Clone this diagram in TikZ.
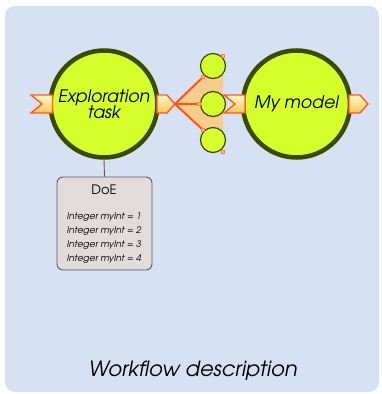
\documentclass[tikz,border=0pt]{standalone}
\usepackage{fontspec}
\setmainfont{TeX Gyre Adventor}
\definecolor{bg}{HTML}{D6E1F3}
\definecolor{lime}{HTML}{D4FF2A}
\definecolor{olive}{HTML}{3B4A00}
\definecolor{slotline}{HTML}{FF5A1A}
\definecolor{slottop}{HTML}{FFF7CC}
\definecolor{slotbot}{HTML}{FFC655}
\definecolor{fanfill}{HTML}{F8CC8C}
\definecolor{fanred}{HTML}{FF5414}
\definecolor{porty}{HTML}{FFC078}
\definecolor{boxfill}{HTML}{E2DBDB}
\definecolor{boxline}{HTML}{5A5A5A}
\begin{document}
\begin{tikzpicture}[x=1pt,y=-1pt,
  task/.style={circle,fill=lime,draw=olive,line width=4.5pt,minimum size=107pt,inner sep=0pt,align=center,font=\fontsize{17.3}{16.5}\selectfont\itshape},
  sub/.style={circle,fill=lime,draw=olive,line width=1.2pt,minimum size=25pt,inner sep=0pt},
  slot/.style={draw=slotline,line width=1.4pt,top color=slottop,bottom color=slotbot,line join=miter},
  port/.style={rectangle,fill=porty,draw=slotline!80,line width=0.4pt,minimum size=3pt,inner sep=0pt},
  fanline/.style={draw=fanred,line width=2pt,line cap=round},
  doebox/.style={rectangle,rounded corners=6pt,fill=boxfill,draw=boxline,line width=0.9pt,minimum width=95pt,minimum height=93pt},
  conn/.style={draw=boxline,line width=0.9pt},
  doeline/.style={font=\fontsize{9.1}{10}\selectfont\itshape,inner sep=0pt}
]
\useasboundingbox (0,0) rectangle (381,394);
\path[fill=bg,rounded corners=10pt] (5,6) rectangle (379,392);

% fan
\coordinate (apex) at (175,104);
\coordinate (p1) at (203,77);
\coordinate (p2) at (199,104);
\coordinate (p3) at (203,130);
\coordinate (q1) at (223,56);
\coordinate (q3) at (223,152);
\fill[fanfill] (apex) -- (p1) -- (q1) -- (q3) -- (p3) -- cycle;

% main circles
\node[task] (t1) at (104,104) {Exploration\\task};
\node[task] (t2) at (296.5,104) {My model};

% small circles
\node[sub] (s1) at (213,66) {};
\node[sub] (s2) at (213,104) {};
\node[sub] (s3) at (213,140) {};

% fan lines
\draw[fanline] (apex) -- (p1);
\draw[fanline] (apex) -- (p2);
\draw[fanline] (apex) -- (p3);
\node[port] (pp1) at (p1) {};
\node[port] (pp2) at (p2) {};
\node[port] (pp3) at (p3) {};
\node[port] (pq1) at (q1) {};
\node[port] (pq3) at (q3) {};

% slots
\draw[slot] (31,95) -- (52.5,95) -- (52.5,113) -- (31,113) -- (42,104) -- cycle;
\draw[slot] (157,95) -- (167,95) -- (175,104) -- (167,113) -- (157,113) -- cycle;
\draw[slot] (224,95) -- (245,95) -- (245,113) -- (224,113) -- (235,104) -- cycle;
\draw[slot] (349,95) -- (360,95) -- (368,104) -- (360,113) -- (349,113) -- cycle;

% DoE box
\node[doebox] (doe) at (104.5,223.5) {};
\draw[conn] (t1.south) -- (doe.north);
\node[font=\fontsize{13}{14}\selectfont] (doet) at (104,190) {DoE};
\node[doeline] (d1) at (104,217) {Integer myInt = 1};
\node[doeline] (d2) at (104,231) {Integer myInt = 2};
\node[doeline] (d3) at (104,245) {Integer myInt = 3};
\node[doeline] (d4) at (104,259) {Integer myInt = 4};

% title
\node[font=\fontsize{21}{23}\selectfont\itshape] (title) at (193,371) {Workflow description};
\end{tikzpicture}
\end{document}
